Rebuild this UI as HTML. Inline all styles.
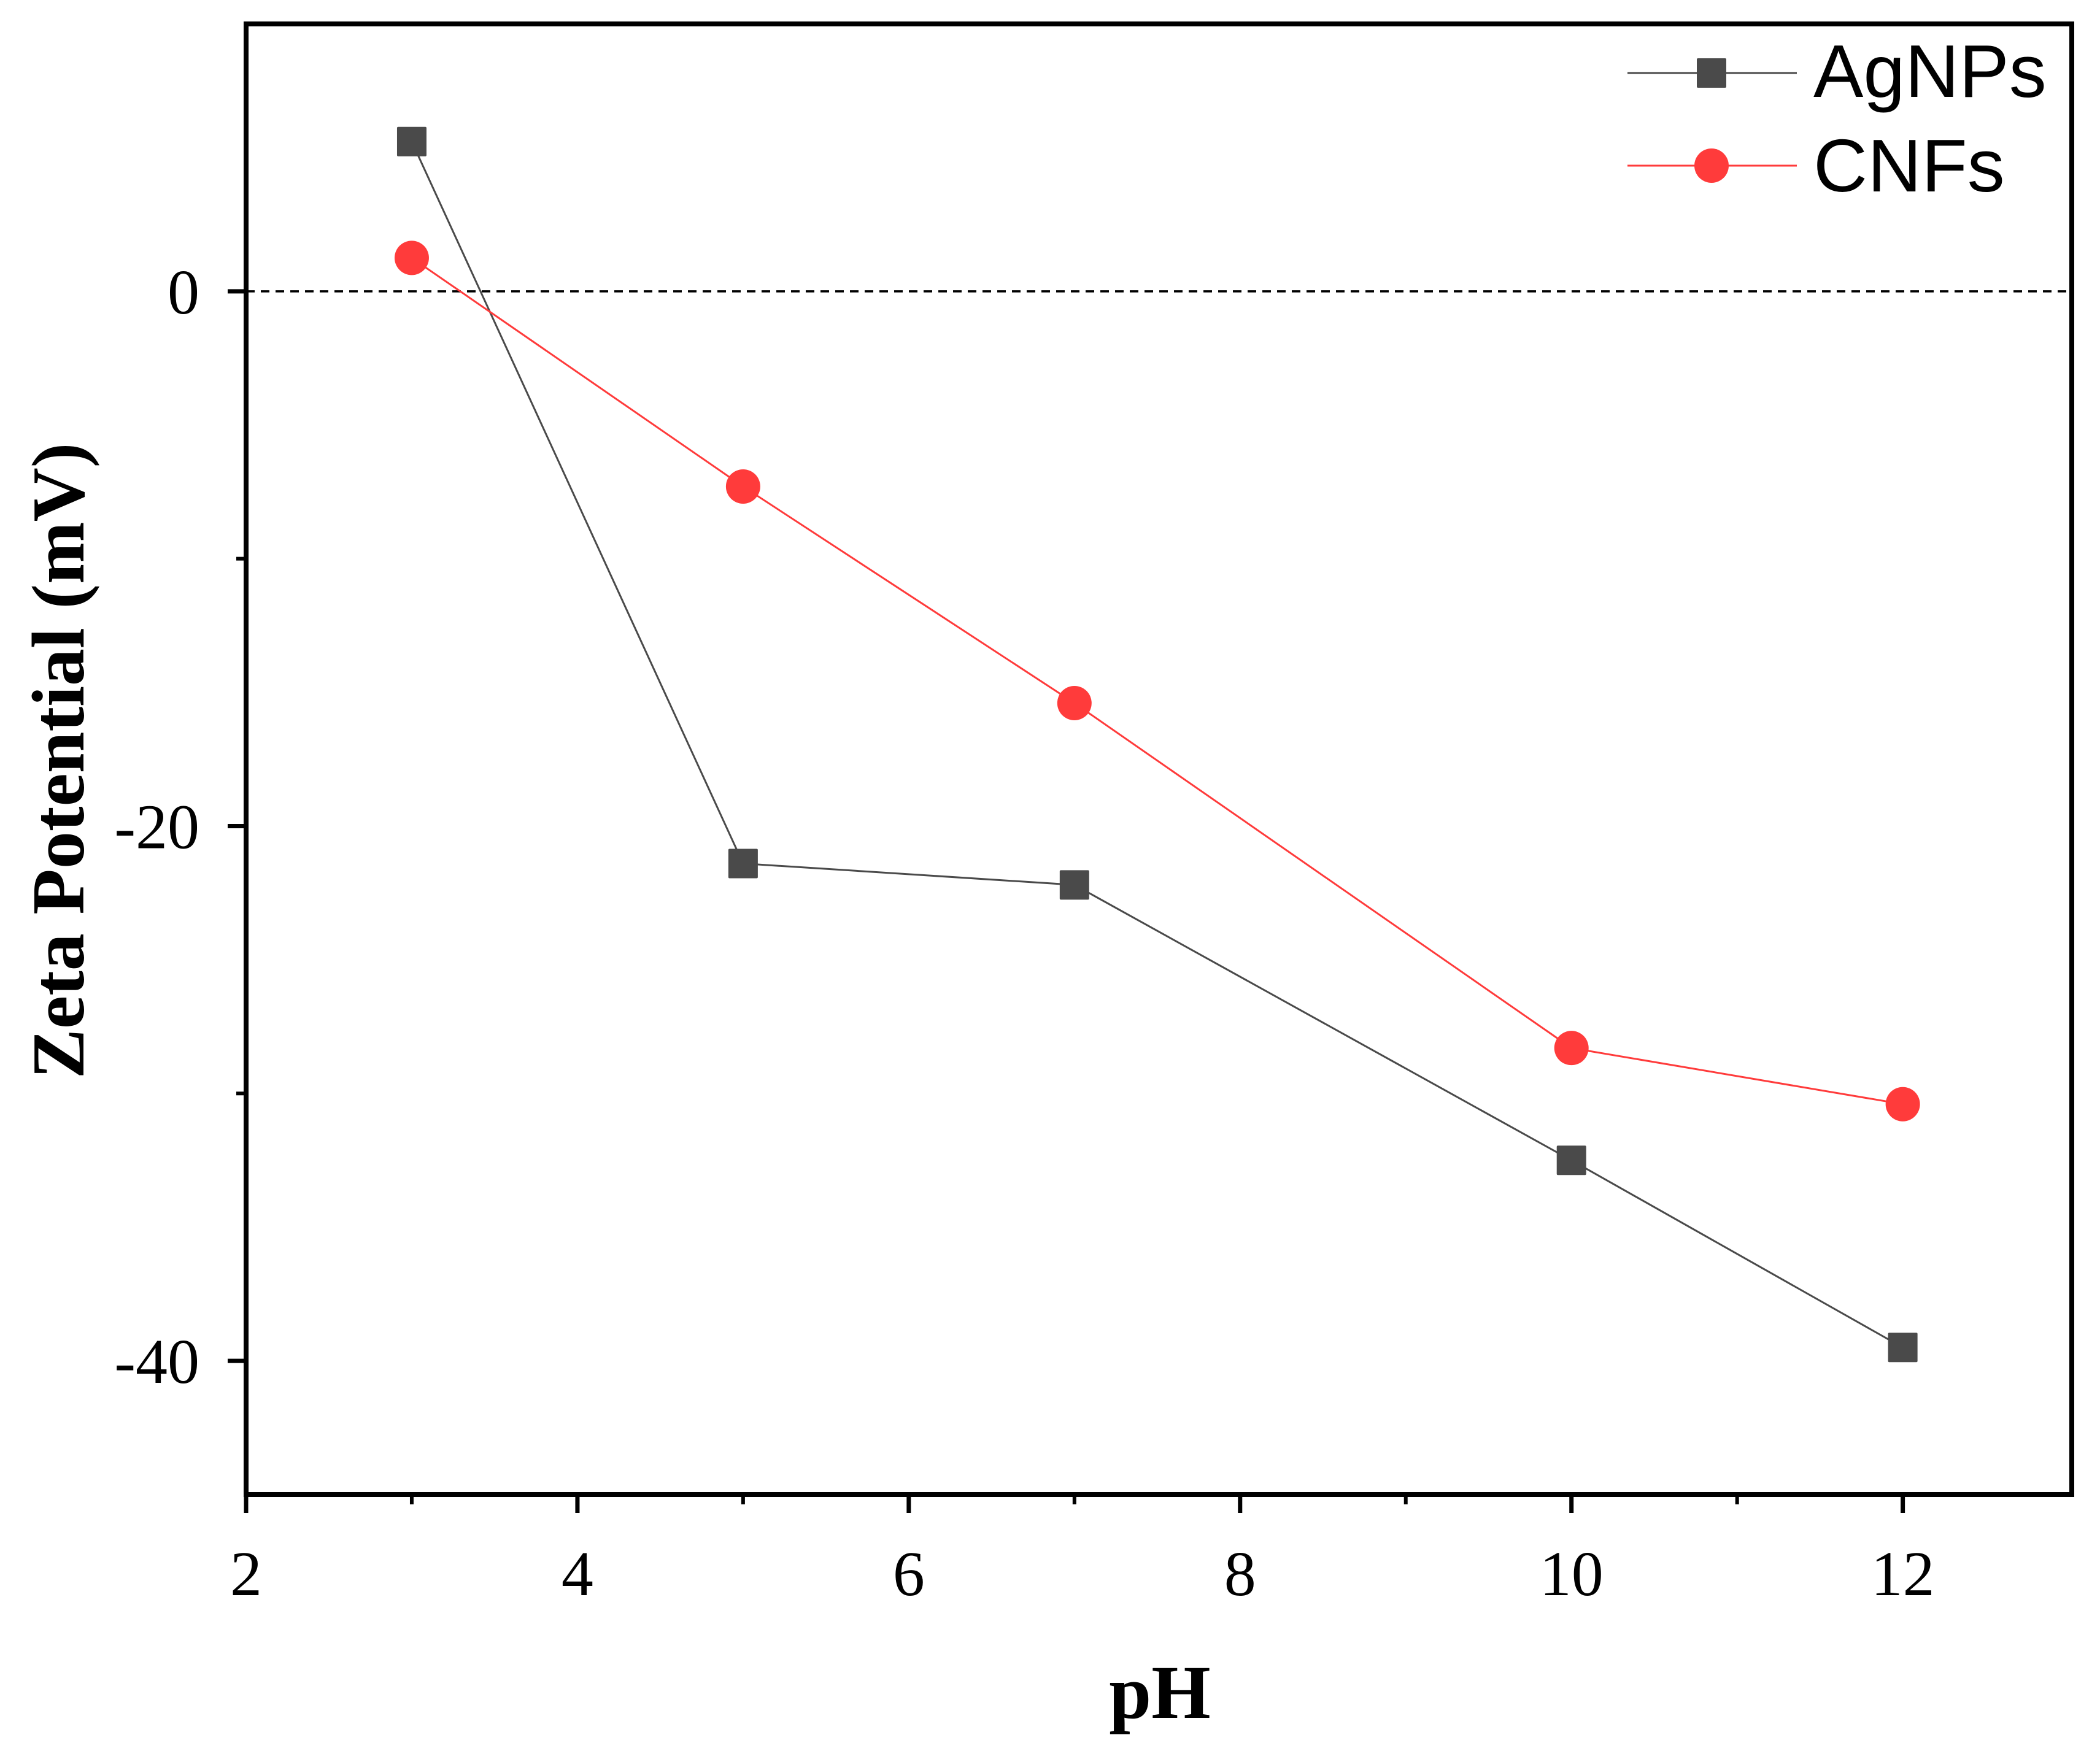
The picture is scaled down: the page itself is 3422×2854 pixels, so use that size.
<!DOCTYPE html>
<html><head><meta charset="utf-8"><style>
html,body{margin:0;padding:0;background:#fff;}
svg{display:block;}
</style></head><body>
<svg id="chart" width="3422" height="2854" viewBox="0 0 3422 2854" xmlns="http://www.w3.org/2000/svg">
<g id="plot"></g>
</svg>
<script>
const phValues = [3, 5, 7, 10, 12];
const agnpsZeta = [5.6, -21.4, -22.2, -32.5, -39.5];
const cnfsZeta = [1.25, -7.3, -15.4, -28.3, -30.4];
const xTickLabels = [2, 4, 6, 8, 10, 12];
const xMinorTicks = [3, 5, 7, 9, 11];
const yTickLabels = [0, -20, -40];
const yMinorTicks = [-10, -30];

const L = 401, R = 3376, T = 39, B = 2436;
const xMin = 2, xMax = 13.02, yMin = -45, yMax = 10;
const sx = v => L + (v - xMin) / (xMax - xMin) * (R - L);
const sy = v => B - (v - yMin) / (yMax - yMin) * (B - T);
const NS = "http://www.w3.org/2000/svg";
const g = document.getElementById('plot');
function mk(tag, attrs, parent) {
  const e = document.createElementNS(NS, tag);
  for (const k in attrs) e.setAttribute(k, attrs[k]);
  (parent || g).appendChild(e);
  return e;
}
const serif = '"Liberation Serif", "Times New Roman", serif';
const sans = '"Liberation Sans", Arial, sans-serif';

let z = mk('line', {x1: L, x2: R, y1: sy(0), y2: sy(0), stroke: '#000', 'stroke-width': 3.5, 'stroke-dasharray': '14 10'});



let fr = mk('rect', {x: L, y: T, width: R - L, height: B - T, fill: 'none', stroke: '#000', 'stroke-width': 8});



xTickLabels.forEach(v => {
  const t = mk('line', {x1: sx(v), x2: sx(v), y1: B, y2: B + 30, stroke: '#000', 'stroke-width': 7});
  
  
  const lb = mk('text', {x: sx(v), y: 2600, 'text-anchor': 'middle', 'font-family': serif, 'font-size': 104});
  lb.textContent = v;
  
  
});
xMinorTicks.forEach(v => {
  const t = mk('line', {x1: sx(v), x2: sx(v), y1: B, y2: B + 16, stroke: '#000', 'stroke-width': 6});
  
  
});
yTickLabels.forEach(v => {
  const t = mk('line', {x1: L - 30, x2: L, y1: sy(v), y2: sy(v), stroke: '#000', 'stroke-width': 7});
  
  
  const lb = mk('text', {x: 325, y: sy(v) + 36, 'text-anchor': 'end', 'font-family': serif, 'font-size': 104});
  lb.textContent = v;
  
  
});
yMinorTicks.forEach(v => {
  const t = mk('line', {x1: L - 16, x2: L, y1: sy(v), y2: sy(v), stroke: '#000', 'stroke-width': 6});
  
  
});

const xt = mk('text', {x: 1890, y: 2800, 'text-anchor': 'middle', 'font-family': serif, 'font-size': 124, 'font-weight': 'bold'});
xt.textContent = 'pH';


const yt = mk('text', {x: 0, y: 0, 'text-anchor': 'middle', 'font-family': serif, 'font-size': 122, 'font-weight': 'bold', transform: 'translate(136,1240) rotate(-90)'});
yt.textContent = 'Zeta Potential (mV)';



function series(vals, color, shape, name) {
  const pts = phValues.map((p, i) => sx(p) + ',' + sy(vals[i])).join(' ');
  const pl = mk('polyline', {points: pts, fill: 'none', stroke: color, 'stroke-width': 3});
  
  
  phValues.forEach((p, i) => {
    let m;
    if (shape === 'square') m = mk('rect', {x: sx(p) - 24, y: sy(vals[i]) - 24, width: 48, height: 48, fill: color, rx: 2});
    else m = mk('circle', {cx: sx(p), cy: sy(vals[i]), r: 28, fill: color});
    
    
  });
}
series(agnpsZeta, '#4a4a4a', 'square', 'agnps');
series(cnfsZeta, '#ff3b3b', 'circle', 'cnfs');

const lg = mk('g', {});


const l1 = mk('line', {x1: 2652, x2: 2928, y1: 119, y2: 119, stroke: '#4a4a4a', 'stroke-width': 3}, lg);


const m1 = mk('rect', {x: 2765, y: 95, width: 48, height: 48, fill: '#4a4a4a', rx: 2}, lg);


const t1 = mk('text', {x: 2955, y: 158, 'font-family': sans, 'font-size': 122}, lg);
t1.textContent = 'AgNPs';


const l2 = mk('line', {x1: 2652, x2: 2928, y1: 270, y2: 270, stroke: '#ff3b3b', 'stroke-width': 3}, lg);


const m2 = mk('circle', {cx: 2789, cy: 270, r: 28, fill: '#ff3b3b'}, lg);


const t2 = mk('text', {x: 2955, y: 312, 'font-family': sans, 'font-size': 122}, lg);
t2.textContent = 'CNFs';


</script>
</body></html>
